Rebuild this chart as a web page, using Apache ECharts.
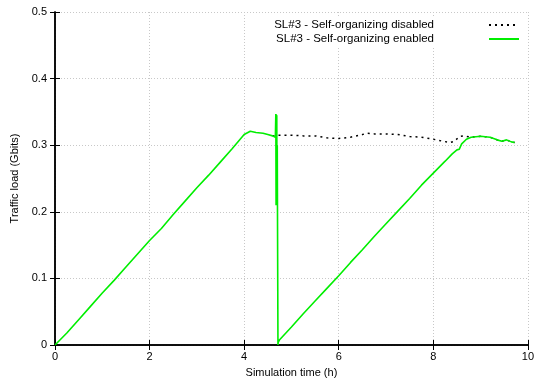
<!DOCTYPE html>
<html>
<head>
<meta charset="utf-8">
<script src="https://cdn.jsdelivr.net/npm/echarts@6/dist/echarts.min.js"></script>
<style>
  html, body { margin: 0; padding: 0; background: #fff; }
  #chart { width: 537px; height: 383px; }
</style>
</head>
<body>
<div id="chart"></div>
<script>
// time (h) / traffic load (Gbits)
const timeEnabled = [0, 0.25, 0.5, 0.75, 1, 1.25, 1.5, 1.75, 2, 2.25, 2.5, 2.75, 3, 3.25, 3.5, 3.75, 4.0, 4.13, 4.25, 4.4, 4.5, 4.6, 4.66,
  4.67, 4.675, 4.68, 4.685, 4.69, 4.695, 4.70, 4.715, 4.72,
  4.75, 5.0, 5.25, 5.5, 5.75, 6.0, 6.25, 6.5, 6.75, 7.0, 7.25, 7.5, 7.75, 8.0, 8.25, 8.4, 8.5, 8.55, 8.6, 8.7, 8.8, 9.0, 9.2, 9.35, 9.45, 9.55, 9.65, 9.72];
const loadEnabled = [0, 0.018, 0.038, 0.058, 0.078, 0.097, 0.117, 0.137, 0.157, 0.175, 0.196, 0.216, 0.236, 0.255, 0.275, 0.295, 0.316, 0.321, 0.319, 0.318, 0.316, 0.314, 0.312,
  0.347, 0.21, 0.346, 0.212, 0.345, 0.21, 0.3, 0.0, 0.004,
  0.008, 0.027, 0.047, 0.066, 0.085, 0.104, 0.124, 0.143, 0.163, 0.182, 0.201, 0.220, 0.240, 0.258, 0.276, 0.287, 0.293, 0.294, 0.302, 0.309, 0.312, 0.3135, 0.312, 0.308, 0.306, 0.308, 0.305, 0.304];

const timeDisabled = [4.6, 4.72, 5.0, 5.25, 5.5, 5.75, 6.0, 6.25, 6.5, 6.6, 6.75, 7.0, 7.25, 7.5, 7.75, 8.0, 8.2, 8.35, 8.45, 8.55, 8.65, 8.8, 9.0, 9.2, 9.35, 9.45, 9.55, 9.65, 9.72];
const loadDisabled = [0.314, 0.315, 0.315, 0.314, 0.314, 0.311, 0.310, 0.312, 0.316, 0.318, 0.317, 0.317, 0.316, 0.313, 0.312, 0.309, 0.306, 0.304, 0.306, 0.313, 0.314, 0.312, 0.3135, 0.312, 0.308, 0.306, 0.308, 0.305, 0.304];

const xTicks = [0, 2, 4, 6, 8, 10];
const yTicks = [0, 0.1, 0.2, 0.3, 0.4, 0.5];

const zip = (xs, ys) => xs.map((x, i) => [x, ys[i]]);

const chart = echarts.init(document.getElementById('chart'), null, { renderer: 'canvas' });
const font = 'Liberation Sans, Arial, sans-serif';
const gridLine = { show: true, lineStyle: { color: '#c8c8c8', type: [1, 2], width: 1 } };

chart.setOption({
  animation: false,
  textStyle: { fontFamily: font, fontSize: 11, color: '#000' },
  grid: { left: 55, top: 12, right: 5, bottom: 35 },
  legend: {
    orient: 'vertical',
    right: 15,
    top: 17,
    align: 'right',
    itemWidth: 30,
    itemHeight: 10,
    itemGap: 2,
    backgroundColor: '#fff',
    padding: [2, 2, 2, 20],
    itemStyle: { opacity: 0 },
    textStyle: { fontFamily: font, fontSize: 11.5, color: '#000', padding: [0, 50, 0, 0] },
    data: ['SL#3 - Self-organizing disabled', 'SL#3 - Self-organizing enabled']
  },
  xAxis: [{
    type: 'value', min: 0, max: 10, interval: 2,
    name: 'Simulation time (h)', nameLocation: 'middle', nameGap: 22,
    nameTextStyle: { fontFamily: font, fontSize: 11, color: '#000' },
    axisLine: { onZero: false, lineStyle: { color: '#000', width: 1.5 } },
    axisTick: { inside: true, length: 5, lineStyle: { color: '#000' } },
    axisLabel: { color: '#000', fontSize: 11, margin: 6, formatter: v => xTicks.includes(v) ? String(v) : '' },
    splitLine: gridLine
  }, {
    type: 'value', min: 0, max: 10, interval: 2, position: 'top',
    axisLine: { lineStyle: { color: '#000', width: 1.5 } },
    axisTick: { inside: true, length: 5, lineStyle: { color: '#000' } },
    axisLabel: { show: false }, splitLine: { show: false }
  }],
  yAxis: [{
    type: 'value', min: 0, max: 0.5, interval: 0.1,
    name: 'Traffic load (Gbits)', nameLocation: 'middle', nameGap: 34,
    nameTextStyle: { fontFamily: font, fontSize: 11, color: '#000' },
    axisLine: { show: true, onZero: false, lineStyle: { color: '#000', width: 1.5 } },
    axisTick: { show: true, inside: true, length: 5, lineStyle: { color: '#000' } },
    axisLabel: { color: '#000', fontSize: 11, margin: 8, formatter: v => yTicks.includes(+v.toFixed(1)) ? String(+v.toFixed(1)) : '' },
    splitLine: gridLine
  }, {
    type: 'value', min: 0, max: 0.5, interval: 0.1, position: 'right',
    axisLine: { show: true, lineStyle: { color: '#000', width: 1.5 } },
    axisTick: { show: true, inside: true, length: 5, lineStyle: { color: '#000' } },
    axisLabel: { show: false }, splitLine: { show: false }
  }],
  series: [{
    name: 'SL#3 - Self-organizing disabled',
    type: 'line', showSymbol: false, symbol: 'none',
    lineStyle: { color: '#000', width: 1.5, type: [2, 4] },
    itemStyle: { color: '#000' },
    data: zip(timeDisabled, loadDisabled)
  }, {
    name: 'SL#3 - Self-organizing enabled',
    type: 'line', showSymbol: false, symbol: 'none',
    lineStyle: { color: '#00ee00', width: 1.6 },
    itemStyle: { color: '#00ee00' },
    data: zip(timeEnabled, loadEnabled)
  }]
});
</script>
</body>
</html>
